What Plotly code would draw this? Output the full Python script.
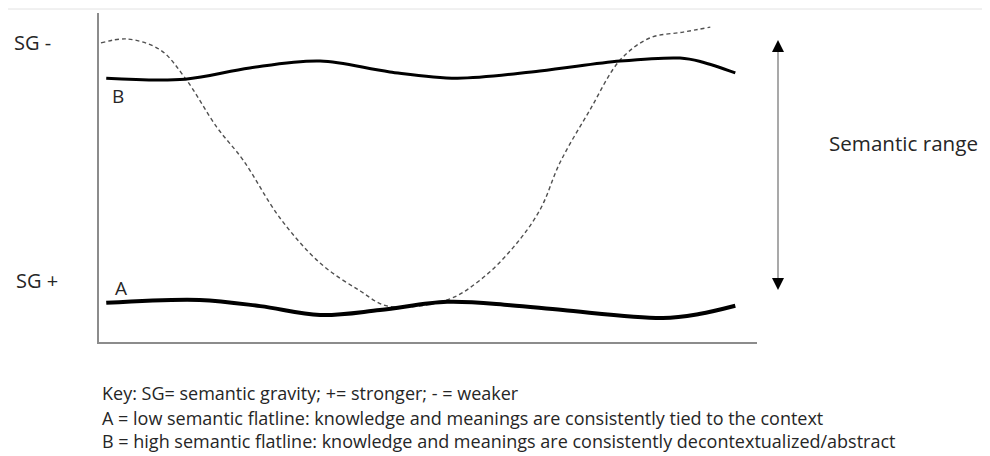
import plotly.graph_objects as go

# ---- data (x: progression 0-100, y: semantic gravity scale 0-100, higher = weaker SG) ----
b_x = [1.1, 13.1, 22.9, 33.6, 44.2, 54.4, 67.0, 79.2, 88.3, 91.5, 96.7]
b_y = [80.2, 79.9, 83.3, 85.4, 82.1, 80.2, 82.4, 85.4, 86.3, 85.2, 81.8]

a_x = [1.1, 15.3, 24.5, 33.6, 42.7, 52.9, 62.5, 70.5, 85.7, 91.2, 96.7]
a_y = [11.9, 12.8, 10.9, 8.2, 9.7, 12.2, 11.2, 9.7, 7.3, 8.5, 11.0]

wave_x = [0.3, 4.3, 9.3, 13.1, 17.9, 21.9, 27.5, 33.6, 39.7, 43.9, 52.9, 57.9, 62.9,
          67.0, 70.1, 74.6, 79.2, 83.7, 88.8, 92.9]
wave_y = [90.9, 92.1, 88.8, 80.2, 65.3, 55.3, 37.7, 24.0, 15.5, 10.9, 12.8, 18.8, 28.6,
          40.1, 54.7, 70.5, 85.7, 92.4, 94.2, 95.7]

key_lines = [
    "Key: SG= semantic gravity; += stronger; - = weaker",
    "A = low semantic flatline: knowledge and meanings are consistently tied to the context",
    "B = high semantic flatline: knowledge and meanings are consistently decontextualized/abstract",
]

FONT = "Open Sans"
TXT = "#262626"

# page offset (body margin) compensation
OFF = 8
FW, FH = 990 - OFF, 456 - OFF
# plot area in page pixels: x 99..757, y 13..342
L, R, T, B = 99, 757, 13, 342
W, H = R - L, B - T


def px(xp):
    return (xp - L) / W


def py(yp):
    return (B - yp) / H


fig = go.Figure()
fig.add_trace(go.Scatter(x=wave_x, y=wave_y, mode="lines",
                         line=dict(color="#505050", width=1.4, dash="4px,3px", shape="spline", smoothing=1.0),
                         hoverinfo="skip", showlegend=False))
fig.add_trace(go.Scatter(x=b_x, y=b_y, mode="lines",
                         line=dict(color="#000000", width=3, shape="spline"),
                         hoverinfo="skip", showlegend=False))
fig.add_trace(go.Scatter(x=a_x, y=a_y, mode="lines",
                         line=dict(color="#000000", width=4, shape="spline"),
                         hoverinfo="skip", showlegend=False))

ann = []
ann.append(dict(x=px(12), y=py(43), xref="paper", yref="paper", text="SG -", showarrow=False,
                xanchor="left", yanchor="middle", font=dict(family=FONT, size=20, color=TXT)))
ann.append(dict(x=px(14), y=py(280), xref="paper", yref="paper", text="SG +", showarrow=False,
                xanchor="left", yanchor="middle", font=dict(family=FONT, size=20, color=TXT)))
ann.append(dict(x=px(110), y=py(96), xref="paper", yref="paper", text="B", showarrow=False,
                xanchor="left", yanchor="middle", font=dict(family=FONT, size=19, color=TXT)))
ann.append(dict(x=px(113), y=py(288), xref="paper", yref="paper", text="A", showarrow=False,
                xanchor="left", yanchor="middle", font=dict(family=FONT, size=19, color=TXT)))
ann.append(dict(x=px(827), y=py(143), xref="paper", yref="paper", text="Semantic range", showarrow=False,
                xanchor="left", yanchor="middle", font=dict(family=FONT, size=20.6, color=TXT)))

for txt, yy in zip(key_lines, [393, 418, 441]):
    ann.append(dict(x=px(100), y=py(yy), xref="paper", yref="paper", text=txt, showarrow=False,
                    xanchor="left", yanchor="middle", font=dict(family=FONT, size=18, color=TXT)))

# arrow heads of the semantic range arrow
ann.append(dict(x=px(778), y=py(40), xref="paper", yref="paper", ax=0, ay=12, text="",
                showarrow=True, arrowhead=2, arrowsize=1.6, arrowwidth=1.5, arrowcolor="#000000"))
ann.append(dict(x=px(778), y=py(290), xref="paper", yref="paper", ax=0, ay=-12, text="",
                showarrow=True, arrowhead=2, arrowsize=1.6, arrowwidth=1.5, arrowcolor="#000000"))

shapes = [
    dict(type="line", xref="paper", yref="paper", x0=px(778), x1=px(778), y0=py(50), y1=py(280),
         line=dict(color="#8c8c8c", width=1.5)),
    dict(type="line", xref="paper", yref="paper", x0=px(OFF), x1=px(990), y0=py(9), y1=py(9),
         line=dict(color="#e2e2e2", width=1)),
]

fig.update_layout(
    width=FW, height=FH,
    margin=dict(l=L - OFF, r=990 - R, t=T - OFF, b=456 - B),
    paper_bgcolor="white", plot_bgcolor="white",
    xaxis=dict(range=[0, 100], showline=True, linecolor="#8c8c8c", linewidth=1.5,
               showgrid=False, zeroline=False, showticklabels=False, ticks=""),
    yaxis=dict(range=[0, 100], showline=True, linecolor="#8c8c8c", linewidth=1.5,
               showgrid=False, zeroline=False, showticklabels=False, ticks=""),
    annotations=ann, shapes=shapes, showlegend=False,
)

fig.write_html("out.html")
